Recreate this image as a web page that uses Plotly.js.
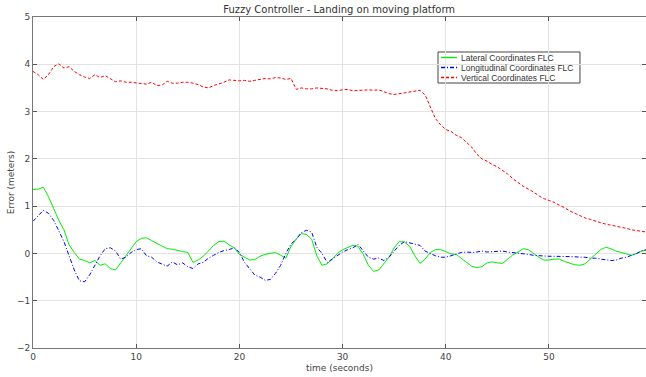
<!DOCTYPE html>
<html><head><meta charset="utf-8">
<script src="https://cdn.plot.ly/plotly-3.0.1.min.js"></script>
<style>html,body{margin:0;padding:0;background:#fff;}#chart{width:646px;height:377px;}</style>
</head><body><div id="chart"></div>
<script>
var timeSec = [
 0,0.5,1,1.5,2,2.5,3,3.5,4,4.5, 5,5.5,6,6.5,7,7.5,8,8.5,9,9.5,
 10,10.5,11,11.5,12,12.5,13,13.5,14,14.5, 15,15.5,16,16.5,17,17.5,18,18.5,19,19.5,
 20,20.5,21,21.5,22,22.5,23,23.5,24,24.5, 25,25.5,26,26.5,27,27.5,28,28.5,29,29.5,
 30,30.5,31,31.5,32,32.5,33,33.5,34,34.5, 35,35.5,36,36.5,37,37.5,38,38.5,39,39.5,
 40,40.5,41,41.5,42,42.5,43,43.5,44,44.5, 45,45.5,46,46.5,47,47.5,48,48.5,49,49.5,
 50,50.5,51,51.5,52,52.5,53,53.5,54,54.5, 55,55.5,56,56.5,57,57.5,58,58.5,59,59.5
];
var lateral = [
 1.35,1.36,1.40,1.20,0.95,0.70,0.50,0.18,0.02,-0.12,
 -0.15,-0.20,-0.15,-0.25,-0.22,-0.32,-0.35,-0.20,-0.05,0.12,
 0.25,0.32,0.33,0.27,0.21,0.16,0.10,0.09,0.06,0.04,
 0.02,-0.19,-0.14,-0.06,0.05,0.17,0.25,0.26,0.18,0.12,
 -0.02,-0.08,-0.14,-0.13,-0.06,-0.02,0.00,0.02,-0.04,-0.10,
 0.15,0.30,0.42,0.40,0.30,-0.05,-0.25,-0.22,-0.12,0.00,
 0.08,0.12,0.17,0.15,-0.02,-0.25,-0.38,-0.35,-0.22,-0.08,
 0.12,0.25,0.24,0.15,-0.05,-0.21,-0.12,0.02,0.08,0.08,
 0.04,-0.01,-0.02,-0.10,-0.19,-0.27,-0.30,-0.28,-0.20,-0.18,
 -0.20,-0.21,-0.12,-0.03,0.03,0.10,0.08,0.00,-0.08,-0.14,
 -0.14,-0.12,-0.12,-0.17,-0.21,-0.24,-0.25,-0.22,-0.12,-0.02,
 0.08,0.13,0.10,0.05,0.02,-0.02,-0.04,0.00,0.05,0.07
];
var longitudinal = [
 0.68,0.80,0.91,0.85,0.70,0.48,0.25,-0.05,-0.35,-0.58,
 -0.60,-0.45,-0.25,-0.05,0.10,0.12,0.05,-0.12,-0.08,0.02,
 0.08,0.10,-0.05,-0.08,-0.18,-0.22,-0.27,-0.18,-0.24,-0.20,
 -0.28,-0.32,-0.22,-0.19,-0.10,-0.04,0.02,0.06,0.08,0.12,
 0.02,-0.19,-0.32,-0.46,-0.50,-0.57,-0.55,-0.42,-0.25,0.00,
 0.20,0.30,0.44,0.49,0.45,0.13,0.00,-0.19,-0.12,-0.04,
 0.03,0.08,0.12,0.19,0.05,-0.08,-0.12,-0.10,-0.15,-0.08,
 0.05,0.17,0.25,0.22,0.20,0.17,0.05,0.00,-0.05,-0.08,
 -0.08,-0.05,-0.02,0.02,0.03,0.02,0.03,0.05,0.03,0.04,
 0.04,0.05,0.03,0.02,0.01,0.00,-0.02,-0.04,-0.05,-0.06,
 -0.06,-0.06,-0.06,-0.06,-0.06,-0.07,-0.08,-0.08,-0.10,-0.10,
 -0.12,-0.14,-0.15,-0.14,-0.10,-0.08,-0.04,0.00,0.06,0.08
];
var vertical = [
 3.85,3.78,3.68,3.78,3.95,4.01,3.92,3.95,3.85,3.78,
 3.73,3.70,3.78,3.72,3.76,3.70,3.63,3.65,3.62,3.62,
 3.61,3.60,3.58,3.62,3.55,3.56,3.64,3.60,3.60,3.62,
 3.62,3.60,3.57,3.52,3.50,3.55,3.58,3.62,3.67,3.66,
 3.65,3.66,3.64,3.66,3.68,3.70,3.69,3.72,3.71,3.68,
 3.70,3.47,3.50,3.48,3.48,3.50,3.49,3.48,3.45,3.44,
 3.46,3.47,3.44,3.45,3.46,3.46,3.45,3.46,3.42,3.38,
 3.36,3.38,3.40,3.42,3.44,3.45,3.35,3.10,2.85,2.72,
 2.62,2.58,2.50,2.45,2.35,2.25,2.10,2.00,1.95,1.88,
 1.83,1.75,1.68,1.58,1.50,1.42,1.36,1.30,1.22,1.16,
 1.12,1.08,1.02,0.97,0.90,0.85,0.80,0.75,0.72,0.68,
 0.65,0.62,0.60,0.58,0.55,0.53,0.50,0.48,0.46,0.45
];
var seriesNames = ["Lateral Coordinates FLC","Longitudinal Coordinates FLC","Vertical Coordinates FLC"];
var seriesColors = ["#00ee00", "#0000ff", "#ff0000"];
var seriesDash = ["solid", "4px,2px,1px,2px", "3px,2px"];
var xTicks = [0,10,20,30,40,50];
var yTicks = [-2,-1,0,1,2,3,4,5];

var fnt = {family:"DejaVu Sans, sans-serif", size:9, color:"#444"};
function lineStyle(i){ return {color:seriesColors[i], width:1, dash:seriesDash[i]}; }
var seriesY = [lateral, longitudinal, vertical];
var traces = seriesY.map(function(ys, i){
  return {x:timeSec, y:ys, name:seriesNames[i], mode:"lines", line:lineStyle(i), showlegend:false};
});

// compact legend box (layout decoration, paper coordinates)
var legX0 = 0.6607, legX1 = 0.8923, legY1 = 0.8943, legY0 = 0.8006;
var rowY = [0.8776, 0.8474, 0.8172];
var shapes = [{type:"rect", xref:"paper", yref:"paper", x0:legX0, x1:legX1, y0:legY0, y1:legY1,
  line:{color:"#444", width:1}, fillcolor:"#ffffff", layer:"below"}];
var annotations = [];
seriesNames.forEach(function(nm, i){
  shapes.push({type:"line", xref:"paper", yref:"paper", x0:0.6656, x1:0.6917, y0:rowY[i], y1:rowY[i],
    line:{color:seriesColors[i], width:1.3, dash:seriesDash[i]}, layer:"above"});
  annotations.push({xref:"paper", yref:"paper", x:0.6945, y:rowY[i], xanchor:"left", yanchor:"middle",
    text:nm, showarrow:false, font:{family:"Liberation Sans, Arial, sans-serif", size:8.5, color:"#333"}});
});

var layout = {
 width:646, height:377,
 margin:{l:33, r:0, t:17, b:29},
 paper_bgcolor:"#fff", plot_bgcolor:"#fff",
 font:fnt,
 title:{text:"Fuzzy Controller - Landing on moving platform", font:{family:"DejaVu Sans, sans-serif", size:10, color:"#333"}, x:0.525, xanchor:"center", y:0.985, yanchor:"top"},
 xaxis:{range:[0,59.4], tickvals:xTicks, ticks:"inside", ticklen:4, tickcolor:"#555",
   showline:true, linecolor:"#777", mirror:"ticks", showgrid:true, gridcolor:"#e3e3e3", zeroline:false,
   title:{text:"time (seconds)", font:fnt, standoff:3}, tickfont:fnt},
 yaxis:{range:[-2,5], tickvals:yTicks, ticks:"inside", ticklen:4, tickcolor:"#555",
   showline:true, linecolor:"#777", mirror:"ticks", showgrid:true, gridcolor:"#e3e3e3", zeroline:false,
   title:{text:"Error (meters)", font:fnt, standoff:0}, tickfont:fnt},
 showlegend:false,
 shapes:shapes,
 annotations:annotations
};
Plotly.newPlot("chart", traces, layout, {displayModeBar:false, staticPlot:true});
</script></body></html>
